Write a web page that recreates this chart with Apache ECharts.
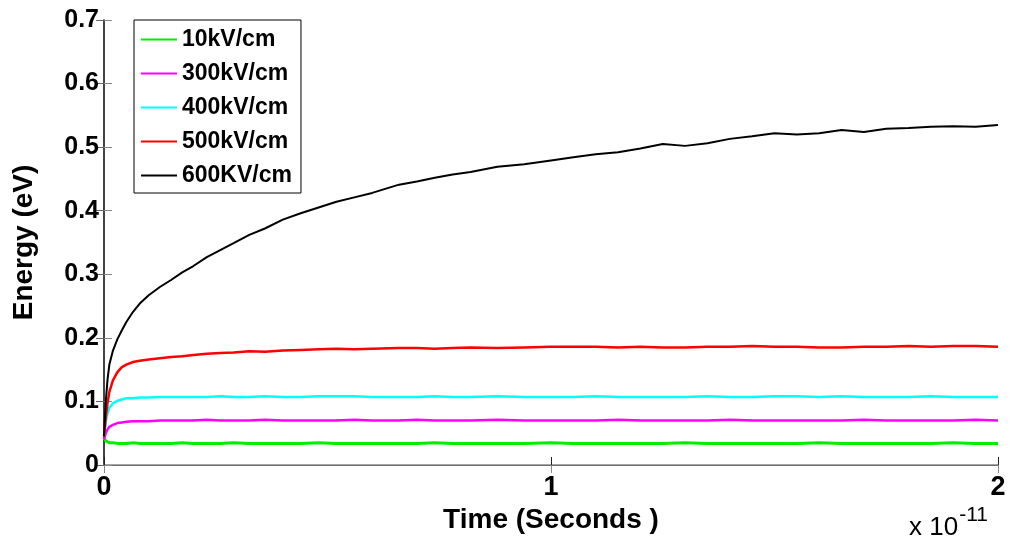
<!DOCTYPE html>
<html lang="en">
<head>
    <meta charset="UTF-8"/>
    <title>Energy vs time</title>
    <script src="https://cdn.jsdelivr.net/npm/echarts@6/dist/echarts.min.js"></script>
    <style>
        html, body { margin: 0; padding: 0; background: #fff; }
        #main { width: 1011px; height: 546px; }
    </style>
</head>
<body>
<div id="main"></div>
<script type="text/javascript">
    // time in units of 1e-11 s
    var time = [0, 0.004, 0.008, 0.012, 0.02, 0.03, 0.04, 0.05, 0.065, 0.08, 0.1, 0.125, 0.15, 0.175, 0.2,
        0.23, 0.26, 0.29, 0.325, 0.36, 0.4, 0.44, 0.48, 0.52, 0.56, 0.6, 0.66, 0.7, 0.74, 0.78, 0.82, 0.88,
        0.94, 1.0, 1.05, 1.1, 1.15, 1.2, 1.25, 1.3, 1.35, 1.4, 1.45, 1.5, 1.55, 1.6, 1.65, 1.7, 1.75, 1.8,
        1.85, 1.9, 1.95, 2.0];

    var e10 = [0.042, 0.038, 0.036, 0.035, 0.035, 0.034, 0.034, 0.034, 0.035, 0.034, 0.034, 0.034, 0.034, 0.035, 0.034,
        0.034, 0.034, 0.035, 0.034, 0.034, 0.034, 0.034, 0.035, 0.034, 0.034, 0.034, 0.034, 0.034, 0.035, 0.034, 0.034, 0.034,
        0.034, 0.035, 0.034, 0.034, 0.034, 0.034, 0.034, 0.035, 0.034, 0.034, 0.034, 0.034, 0.034, 0.035, 0.034, 0.034, 0.034, 0.034,
        0.034, 0.035, 0.034, 0.034];
    var e300 = [0.040, 0.050, 0.056, 0.060, 0.063, 0.066, 0.067, 0.068, 0.069, 0.069, 0.069, 0.070, 0.070, 0.070, 0.070,
        0.071, 0.070, 0.070, 0.070, 0.071, 0.070, 0.070, 0.070, 0.070, 0.071, 0.070, 0.070, 0.071, 0.070, 0.070, 0.070, 0.071,
        0.070, 0.070, 0.070, 0.070, 0.071, 0.070, 0.070, 0.070, 0.070, 0.071, 0.070, 0.070, 0.070, 0.070, 0.070, 0.071, 0.070, 0.070,
        0.070, 0.070, 0.071, 0.070];
    var e400 = [0.045, 0.068, 0.082, 0.090, 0.097, 0.101, 0.103, 0.105, 0.105, 0.106, 0.106, 0.107, 0.107, 0.107, 0.107,
        0.107, 0.108, 0.107, 0.107, 0.108, 0.107, 0.107, 0.108, 0.108, 0.108, 0.107, 0.107, 0.107, 0.108, 0.107, 0.107, 0.108,
        0.107, 0.107, 0.107, 0.108, 0.107, 0.107, 0.107, 0.107, 0.108, 0.107, 0.107, 0.108, 0.108, 0.107, 0.108, 0.107, 0.107, 0.107,
        0.108, 0.107, 0.107, 0.107];
    var e500 = [0.045, 0.075, 0.098, 0.115, 0.133, 0.146, 0.154, 0.158, 0.162, 0.164, 0.166, 0.168, 0.170, 0.171, 0.173,
        0.175, 0.176, 0.177, 0.179, 0.178, 0.180, 0.181, 0.182, 0.183, 0.182, 0.183, 0.184, 0.184, 0.183, 0.184, 0.185, 0.184,
        0.185, 0.186, 0.186, 0.186, 0.185, 0.186, 0.185, 0.185, 0.186, 0.186, 0.187, 0.186, 0.186, 0.185, 0.185, 0.186, 0.186, 0.187,
        0.186, 0.187, 0.187, 0.186];
    var e600 = [0.045, 0.100, 0.135, 0.158, 0.180, 0.198, 0.212, 0.225, 0.241, 0.254, 0.267, 0.280, 0.291, 0.303, 0.313,
        0.327, 0.338, 0.349, 0.362, 0.372, 0.386, 0.396, 0.405, 0.414, 0.421, 0.428, 0.441, 0.446, 0.452, 0.457, 0.461, 0.469,
        0.473, 0.479, 0.484, 0.489, 0.492, 0.498, 0.505, 0.502, 0.506, 0.513, 0.517, 0.522, 0.520, 0.522, 0.527, 0.524, 0.529, 0.530,
        0.532, 0.533, 0.532, 0.535];

    var seriesNames = ['10kV/cm', '300kV/cm', '400kV/cm', '500kV/cm', '600KV/cm'];
    var seriesColors = ['#00ee00', '#ff00ff', '#00ffff', '#ff0000', '#000000'];
    var seriesWidths = [3, 2.5, 2.5, 2.5, 2];
    var seriesValues = [e10, e300, e400, e500, e600];

    var font = 'Liberation Sans, Arial, sans-serif';

    function pairs(vals) {
        var out = [];
        for (var i = 0; i < time.length; i++) {
            out.push([time[i], vals[i]]);
        }
        return out;
    }

    var series = [];
    for (var k = 0; k < seriesNames.length; k++) {
        series.push({
            name: seriesNames[k],
            type: 'line',
            data: pairs(seriesValues[k]),
            showSymbol: false,
            smooth: false,
            lineStyle: {color: seriesColors[k], width: seriesWidths[k]},
            itemStyle: {color: seriesColors[k]},
            z: 2 + k
        });
    }

    var myChart = echarts.init(document.getElementById('main'));

    var option = {
        animation: false,
        backgroundColor: '#fff',
        grid: {left: 104, right: 13, top: 20, bottom: 81},
        legend: {
            orient: 'vertical',
            left: 134,
            top: 20,
            itemWidth: 36,
            itemHeight: 2,
            itemGap: 11,
            icon: 'rect',
            padding: [8, 9, 6, 7],
            borderColor: '#000',
            borderWidth: 1,
            backgroundColor: '#fff',
            textStyle: {fontFamily: font, fontWeight: 'bold', fontSize: 23, lineHeight: 23, color: '#000'},
            data: seriesNames
        },
        xAxis: [{
            type: 'value',
            min: 0,
            max: 2,
            interval: 1,
            name: 'Time (Seconds )',
            nameLocation: 'middle',
            nameGap: 38,
            nameTextStyle: {fontFamily: font, fontWeight: 'bold', fontSize: 28, color: '#000'},
            axisLine: {show: true, lineStyle: {color: '#222', width: 1}},
            axisTick: {show: true, inside: true, length: 8, lineStyle: {color: '#222'}},
            axisLabel: {fontFamily: font, fontWeight: 'bold', fontSize: 27, color: '#000', margin: 9},
            splitLine: {show: false}
        }, {
            type: 'value',
            position: 'top',
            min: 0,
            max: 2,
            interval: 1,
            axisLine: {show: true, lineStyle: {color: '#888', width: 1.5}},
            axisTick: {show: true, inside: true, length: 8, lineStyle: {color: '#888'}},
            axisLabel: {show: false},
            splitLine: {show: false}
        }],
        yAxis: [{
            type: 'value',
            min: 0,
            max: 0.7,
            interval: 0.1,
            name: 'Energy (eV)',
            nameLocation: 'middle',
            nameRotate: 90,
            nameGap: 66,
            nameTextStyle: {fontFamily: font, fontWeight: 'bold', fontSize: 28, color: '#000'},
            axisLine: {show: true, lineStyle: {color: '#888', width: 1.5}},
            axisTick: {show: true, inside: true, length: 8, lineStyle: {color: '#888'}},
            axisLabel: {
                fontFamily: font, fontWeight: 'bold', fontSize: 25, color: '#000', margin: 5,
                formatter: function (v) { return v === 0 ? '0' : v.toFixed(1); }
            },
            splitLine: {show: false}
        }, {
            type: 'value',
            position: 'right',
            min: 0,
            max: 0.7,
            interval: 0.1,
            axisLine: {show: true, lineStyle: {color: '#222', width: 1.5}},
            axisTick: {show: true, inside: true, length: 8, lineStyle: {color: '#666'}},
            axisLabel: {show: false},
            splitLine: {show: false}
        }],
        graphic: [{
            type: 'text',
            left: 909,
            top: 505,
            style: {
                text: '{a|x 10}{b|-11}',
                rich: {
                    a: {fontFamily: font, fontSize: 26, fill: '#000', verticalAlign: 'bottom', lineHeight: 36},
                    b: {fontFamily: font, fontSize: 21, fill: '#000', verticalAlign: 'top', lineHeight: 36, padding: [0, 0, 15, 1]}
                }
            }
        }],
        series: series
    };

    myChart.setOption(option);
</script>
</body>
</html>
